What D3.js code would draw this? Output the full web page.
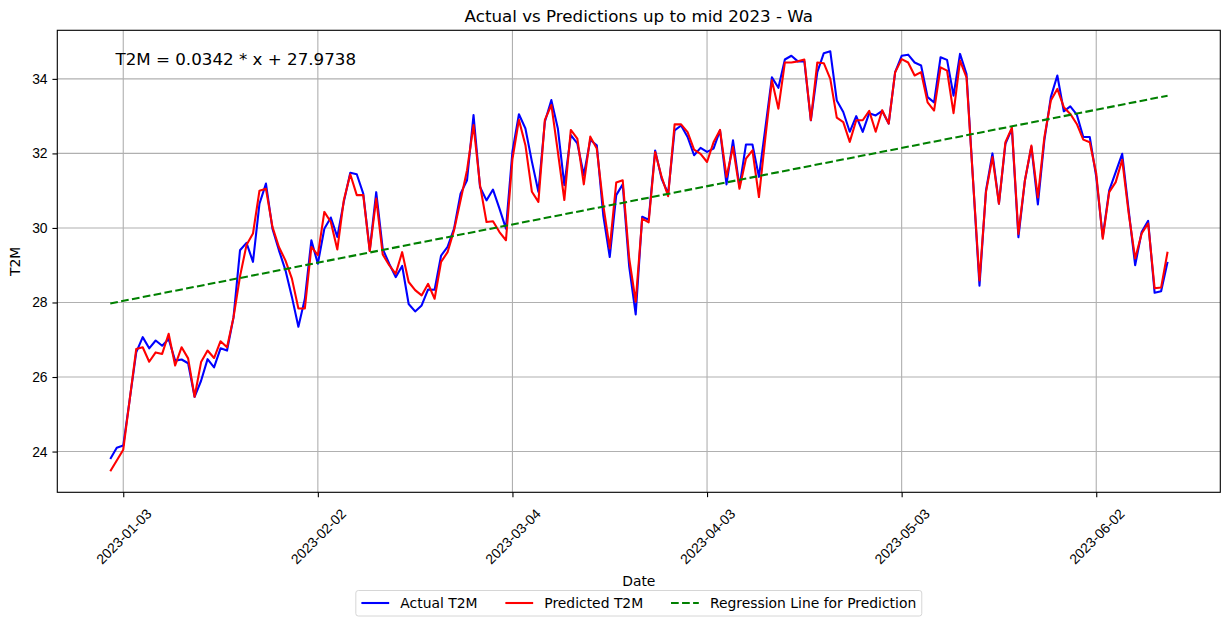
<!DOCTYPE html>
<html>
<head>
<meta charset="utf-8">
<script src="https://cdn.jsdelivr.net/npm/d3@7"></script>
<style>
  body { margin: 0; background: #fff; }
  svg { display: block; font-family: "DejaVu Sans", sans-serif; }
</style>
</head>
<body>
<svg id="chart" width="1229" height="626"></svg>
<script>
// daily values, starting 2023-01-01
const startDate = '2023-01-01';
const actual = [
  23.80, 24.10, 24.16, 25.40, 26.66, 27.07, 26.77, 26.98, 26.84, 27.02,
  26.44, 26.47, 26.37, 25.47, 25.90, 26.48, 26.26, 26.77, 26.71, 27.60,
  29.40, 29.60, 29.09, 30.65, 31.19, 29.98, 29.40, 28.87, 28.15, 27.35,
  28.10, 29.67, 29.04, 29.98, 30.28, 29.76, 30.70, 31.48, 31.44, 30.92,
  29.40, 30.96, 29.44, 29.04, 28.68, 28.98, 27.96, 27.76, 27.92, 28.35,
  28.34, 29.26, 29.49, 29.98, 30.92, 31.28, 33.03, 31.10, 30.74, 31.03,
  30.52, 29.98, 32.05, 33.05, 32.67, 31.78, 30.97, 32.85, 33.43, 32.67,
  31.15, 32.49, 32.27, 31.42, 32.36, 32.22, 30.34, 29.22, 30.88, 31.17,
  28.96, 27.68, 30.30, 30.22, 32.08, 31.32, 30.92, 32.62, 32.75, 32.44,
  31.95, 32.15, 32.04, 32.13, 32.62, 31.17, 32.35, 31.10, 32.24, 32.24,
  31.37, 32.70, 34.04, 33.76, 34.52, 34.62, 34.47, 34.47, 32.89, 34.18,
  34.69, 34.74, 33.42, 33.11, 32.58, 33.00, 32.58, 33.08, 33.02, 33.14,
  32.80, 34.18, 34.62, 34.65, 34.44, 34.36, 33.51, 33.37, 34.58, 34.51,
  33.55, 34.67, 34.13, 31.30, 28.45, 31.00, 32.00, 30.65, 32.26, 32.66,
  29.75, 31.27, 32.18, 30.63, 32.35, 33.51, 34.09, 33.13, 33.26, 33.04,
  32.44, 32.44, 31.37, 29.76, 31.01, 31.50, 31.99, 30.47, 29.00, 29.89,
  30.19, 28.26, 28.30, 29.09
];
const predicted = [
  23.47, 23.76, 24.05, 25.40, 26.75, 26.80, 26.41, 26.66, 26.62, 27.16,
  26.31, 26.80, 26.50, 25.47, 26.40, 26.71, 26.51, 26.96, 26.80, 27.60,
  28.70, 29.54, 29.85, 31.00, 31.05, 30.03, 29.49, 29.13, 28.64, 27.84,
  27.84, 29.49, 29.27, 30.43, 30.16, 29.42, 30.74, 31.44, 30.88, 30.88,
  29.38, 30.79, 29.29, 29.00, 28.77, 29.35, 28.55, 28.33, 28.19, 28.50,
  28.10, 29.09, 29.35, 29.94, 30.74, 31.55, 32.76, 31.15, 30.16, 30.18,
  29.89, 29.67, 31.85, 32.90, 32.22, 30.97, 30.70, 32.90, 33.30, 32.04,
  30.75, 32.63, 32.40, 31.17, 32.45, 32.13, 30.61, 29.45, 31.22, 31.28,
  29.18, 28.02, 30.25, 30.15, 32.04, 31.37, 30.85, 32.78, 32.78, 32.57,
  32.10, 31.99, 31.77, 32.30, 32.63, 31.37, 32.17, 31.05, 31.86, 32.08,
  30.83, 32.44, 33.96, 33.20, 34.44, 34.44, 34.47, 34.52, 32.89, 34.44,
  34.42, 34.00, 32.96, 32.84, 32.31, 32.89, 32.89, 33.14, 32.58, 33.16,
  32.80, 34.18, 34.53, 34.44, 34.09, 34.18, 33.37, 33.15, 34.31, 34.22,
  33.08, 34.49, 34.04, 31.30, 28.59, 30.96, 31.90, 30.65, 32.30, 32.69,
  29.84, 31.27, 32.21, 30.82, 32.43, 33.42, 33.73, 33.24, 33.06, 32.79,
  32.37, 32.30, 31.46, 29.71, 30.96, 31.23, 31.83, 30.39, 29.18, 29.85,
  30.12, 28.38, 28.40, 29.36
];
// fitted regression on the predictions (x = day index)
const slope = 0.0342;
const intercept = 27.9738;

const xTickLabels = ['2023-01-03', '2023-02-02', '2023-03-04', '2023-04-03', '2023-05-03', '2023-06-02'];
const yTicks = [24, 26, 28, 30, 32, 34];
const legendLabels = ['Actual T2M', 'Predicted T2M', 'Regression Line for Prediction'];

const svg = d3.select('#chart');
const margin = {left: 57.3, right: 1220.3, top: 30.3, bottom: 492.3};
const pt = 100 / 72;  // points -> px at 100 dpi
const lw = 1.5 * pt;
const dash = `${3.7 * lw},${1.6 * lw}`;
const parse = d3.utcParse('%Y-%m-%d');
const t0 = parse(startDate);
const dateOf = i => d3.utcDay.offset(t0, i);

const n = actual.length;
const regLine = [0, n - 1].map(i => ({i, v: slope * i + intercept}));

// matplotlib-like 5% padding
const xPad = (n - 1) * 0.05;
const x = d3.scaleUtc()
  .domain([d3.utcHour.offset(t0, -xPad * 24), d3.utcHour.offset(dateOf(n - 1), xPad * 24)])
  .range([margin.left, margin.right]);
const allVals = actual.concat(predicted, regLine.map(d => d.v));
const [vmin, vmax] = d3.extent(allVals);
const yPad = (vmax - vmin) * 0.05;
const y = d3.scaleLinear()
  .domain([vmin - yPad, vmax + yPad])
  .range([margin.bottom, margin.top]);

const xTicks = xTickLabels.map(parse);

// grid
const grid = svg.append('g').attr('stroke', '#b0b0b0').attr('stroke-width', 0.8 * pt);
xTicks.forEach(d => grid.append('line')
  .attr('x1', x(d)).attr('x2', x(d)).attr('y1', margin.top).attr('y2', margin.bottom));
yTicks.forEach(v => grid.append('line')
  .attr('x1', margin.left).attr('x2', margin.right).attr('y1', y(v)).attr('y2', y(v)));

// lines
const line = d3.line().x(d => x(dateOf(d.i))).y(d => y(d.v));
const toPts = arr => arr.map((v, i) => ({i, v}));
svg.append('path').datum(toPts(actual))
  .attr('d', line).attr('fill', 'none').attr('stroke', 'blue').attr('stroke-width', lw)
  .attr('stroke-linejoin', 'round');
svg.append('path').datum(toPts(predicted))
  .attr('d', line).attr('fill', 'none').attr('stroke', 'red').attr('stroke-width', lw)
  .attr('stroke-linejoin', 'round');
svg.append('path').datum(regLine)
  .attr('d', line).attr('fill', 'none').attr('stroke', 'green').attr('stroke-width', lw)
  .attr('stroke-dasharray', dash);

// axes
const xAxis = d3.axisBottom(x).tickValues(xTicks).tickSize(3.5 * pt).tickPadding(0)
  .tickFormat(d3.utcFormat('%Y-%m-%d'));
const gx = svg.append('g').attr('transform', `translate(0,${margin.bottom})`).call(xAxis);
gx.select('.domain').remove();
gx.selectAll('line').attr('stroke', '#000').attr('stroke-width', 0.8 * pt);
gx.selectAll('text')
  .attr('font-size', '13.9px').attr('fill', '#000')
  .attr('text-anchor', 'middle').attr('dy', null).attr('y', null)
  .attr('dominant-baseline', 'central')
  .attr('transform', 'translate(0,44) rotate(-45)');

const yAxis = d3.axisLeft(y).tickValues(yTicks).tickSize(3.5 * pt).tickPadding(3.5 * pt);
const gy = svg.append('g').attr('transform', `translate(${margin.left},0)`).call(yAxis);
gy.select('.domain').remove();
gy.selectAll('line').attr('stroke', '#000').attr('stroke-width', 0.8 * pt);
gy.selectAll('text').attr('font-size', '13.9px').attr('fill', '#000');

// frame
svg.append('rect')
  .attr('x', margin.left).attr('y', margin.top)
  .attr('width', margin.right - margin.left).attr('height', margin.bottom - margin.top)
  .attr('fill', 'none').attr('stroke', '#000').attr('stroke-width', 0.8 * pt);

const cx = (margin.left + margin.right) / 2;
svg.append('text').attr('x', cx).attr('y', 22)
  .attr('text-anchor', 'middle').attr('font-size', '16.7px')
  .text('Actual vs Predictions up to mid 2023 - Wa');
svg.append('text').attr('x', margin.left + 0.05 * (margin.right - margin.left)).attr('y', 65)
  .attr('font-size', '16.7px')
  .text(`T2M = ${slope.toFixed(4)} * x + ${intercept.toFixed(4)}`);
svg.append('text').attr('x', cx).attr('y', 586)
  .attr('text-anchor', 'middle').attr('font-size', '13.9px').text('Date');
svg.append('text').attr('transform', `translate(20,${(margin.top + margin.bottom) / 2}) rotate(-90)`)
  .attr('text-anchor', 'middle').attr('font-size', '13.9px').text('T2M');

// legend, one row centred under the axes
const em = 13.9;
const styles = [
  {stroke: 'blue', dash: null},
  {stroke: 'red', dash: null},
  {stroke: 'green', dash: dash}
];
const lg = svg.append('g');
const box = lg.append('rect');
const items = legendLabels.map((label, k) => {
  const g = lg.append('g');
  g.append('line').attr('x1', 0).attr('x2', 2 * em).attr('y1', 0).attr('y2', 0)
    .attr('stroke', styles[k].stroke).attr('stroke-width', lw)
    .attr('stroke-dasharray', styles[k].dash);
  const t = g.append('text').attr('x', 2.8 * em).attr('y', 0)
    .attr('dominant-baseline', 'central').attr('font-size', em + 'px').text(label);
  return {g, w: 2.8 * em + t.node().getComputedTextLength()};
});
const totalW = d3.sum(items, d => d.w) + 2 * em * (items.length - 1) + 2 * 0.4 * em;
let lx = cx - totalW / 2;
const ly = 603;
box.attr('x', lx).attr('y', 590.5).attr('width', totalW).attr('height', 25.5)
  .attr('rx', 2.5).attr('fill', '#fff').attr('stroke', '#d6d6d6').attr('stroke-width', 1);
lx += 0.4 * em;
items.forEach(it => {
  it.g.attr('transform', `translate(${lx},${ly})`);
  lx += it.w + 2 * em;
});
</script>
</body>
</html>
